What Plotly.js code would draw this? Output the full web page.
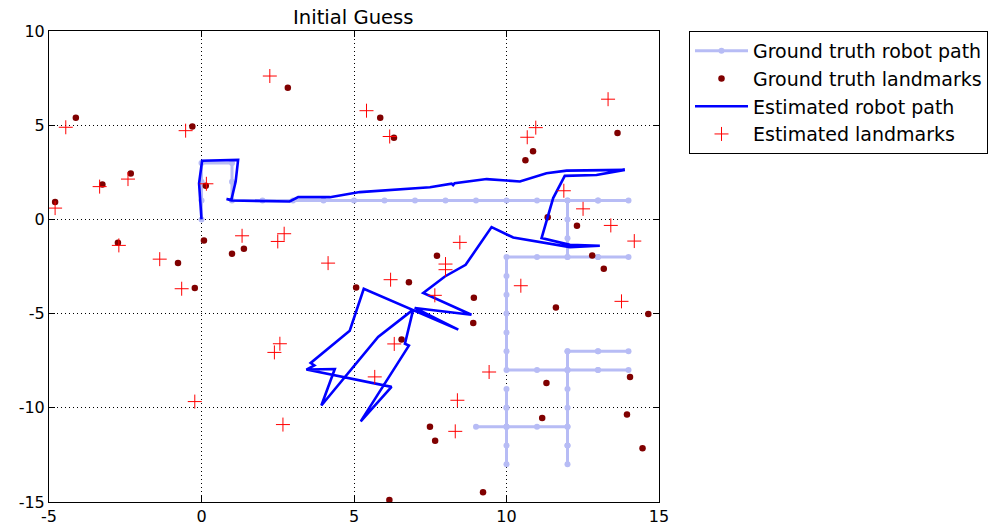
<!DOCTYPE html>
<html>
<head>
<meta charset="utf-8">
<script src="https://cdn.plot.ly/plotly-3.0.1.min.js"></script>
<style>html,body{margin:0;padding:0;background:#fff;}#chart{width:991px;height:525px;}</style>
</head>
<body>
<div id="chart"></div>
<script>
// Ground truth robot path (grid moves, retracing where the robot doubles back)
const gtPathX = [0,0,0,0,1,1,1,2,3,4,5,6,7,8,9,10,11,12,13,14,13,12,12,12,12,13,14,13,12,11,10,10,10,10,10,10,10,11,12,13,14,13,12,12,13,14,13,12,12,12,12,12,12,12,12,12,11,10,9,10,10,10,10,10,10,10];
const gtPathY = [0,1,2,3,3,2,1,1,1,1,1,1,1,1,1,1,1,1,1,1,1,1,0,-1,-2,-2,-2,-2,-2,-2,-2,-3,-4,-5,-6,-7,-8,-8,-8,-8,-8,-8,-8,-7,-7,-7,-7,-7,-8,-9,-10,-11,-12,-13,-12,-11,-11,-11,-11,-11,-10,-9,-10,-11,-12,-13];

// Ground truth landmarks
const gtLmX = [-4.12,-0.30,-3.25,-2.32,0.14,2.83,5.86,6.31,13.64,10.87,10.62,-4.80,-2.74,0.08,-0.77,-0.22,1.00,1.39,7.72,6.80,5.07,6.56,11.35,12.31,12.81,13.19,8.93,11.62,14.65,8.91,7.49,7.66,6.16,11.31,14.05,11.17,13.95,14.46,9.23];
const gtLmY = [5.40,4.93,1.85,2.43,1.78,6.99,5.40,4.33,4.58,3.62,3.14,0.92,-1.24,-1.12,-2.32,-3.64,-1.82,-1.56,-1.93,-3.34,-3.61,-6.37,0.12,-0.34,-1.91,-2.62,-4.16,-4.67,-5.02,-5.50,-11.01,-11.75,-14.90,-8.68,-8.36,-10.54,-10.36,-12.15,-14.48];

// Estimated robot path
const estPathX = [0,-0.05,-0.08,0.02,1.20,1.12,0.98,0.82,0.98,2.89,3.17,4.21,5.19,7.49,8.20,8.25,8.30,9.35,10.44,11.31,11.97,13.88,12.95,11.91,11.53,11.15,12.08,13.06,12.08,10.22,9.51,8.66,7.98,7.27,8.85,6.99,8.42,5.32,4.86,3.58,3.70,3.44,6.23,5.22,6.80,6.67,6.94,5.79,3.93,4.37,3.44];
const estPathY = [0,1.00,1.92,3.11,3.16,2.01,1.04,1.08,1.00,0.95,1.18,1.18,1.45,1.71,1.90,1.82,1.92,2.14,2.01,2.45,2.59,2.63,2.36,2.31,1.13,-0.99,-1.35,-1.40,-1.47,-0.96,-0.41,-2.41,-3.03,-3.91,-5.06,-4.70,-5.85,-3.68,-5.91,-7.62,-7.75,-7.97,-8.89,-10.72,-6.70,-6.60,-4.79,-6.24,-9.88,-7.94,-7.97];

// Estimated landmarks
const estLmX = [-4.45,-0.52,-2.41,-3.34,0.16,2.24,5.41,6.17,13.33,10.96,10.68,11.88,-4.80,-2.71,-1.37,-0.65,1.33,2.71,2.50,4.15,6.20,8.00,8.00,7.65,2.57,6.32,12.51,13.42,14.19,8.47,10.47,13.77,-0.22,2.39,5.68,2.67,9.43,8.39,8.32];
const estLmY = [4.89,4.71,2.14,1.74,1.89,7.61,5.77,4.40,6.38,4.87,4.36,1.52,0.60,-1.38,-2.11,-3.68,-0.87,-0.76,-1.17,-2.32,-3.20,-2.37,-2.67,-4.03,-6.60,-6.61,0.56,-0.32,-1.15,-1.22,-3.52,-4.35,-9.67,-7.06,-8.36,-10.89,-8.10,-9.60,-11.25];

const xTicks = [-5,0,5,10,15];
const yTicks = [-15,-10,-5,0,5,10];

const traces = [
  {x: gtPathX, y: gtPathY, mode: 'lines+markers', name: 'Ground truth robot path',
   line: {color: 'rgb(183,188,245)', width: 3}, marker: {color: 'rgb(183,188,245)', size: 6}},
  {x: gtLmX, y: gtLmY, mode: 'markers', name: 'Ground truth landmarks',
   marker: {color: '#800000', size: 6.5}},
  {x: estPathX, y: estPathY, mode: 'lines', name: 'Estimated robot path',
   line: {color: 'rgb(0,0,255)', width: 2.6}},
  {x: estLmX, y: estLmY, mode: 'markers', name: 'Estimated landmarks',
   marker: {color: 'rgb(255,0,0)', symbol: 'cross-thin', size: 10, line: {color: 'rgb(255,0,0)', width: 1}}}
];

const axisCommon = {
  showline: true, linecolor: 'black', linewidth: 1, mirror: 'ticks',
  ticks: 'inside', ticklen: 6, tickcolor: 'black', tickwidth: 1,
  showgrid: true, gridcolor: 'black', gridwidth: 1, griddash: '1px,3px',
  zeroline: false, tickfont: {family: 'DejaVu Sans', size: 16, color: 'black'}
};

const layout = {
  width: 991, height: 525,
  margin: {l: 49, r: 332, t: 31, b: 23},
  paper_bgcolor: 'white', plot_bgcolor: 'white',
  title: {text: 'Initial Guess', font: {family: 'DejaVu Sans', size: 19.6, color: 'black'}, x: 0.3565, xanchor: 'center', y: 0.967, yanchor: 'middle'},
  xaxis: Object.assign({}, axisCommon, {range: [-5, 15], tickvals: xTicks, ticktext: xTicks.map(String)}),
  yaxis: Object.assign({}, axisCommon, {range: [-15, 10], tickvals: yTicks, ticktext: yTicks.map(String)}),
  showlegend: true,
  legend: {xref: 'container', yref: 'container', x: 689/991, xanchor: 'left', y: 1 - 31/525, yanchor: 'top',
    bordercolor: 'black', borderwidth: 1, bgcolor: 'white',
    font: {family: 'DejaVu Sans', size: 19, color: 'black'}, tracegroupgap: 0, itemwidth: 53}
};

Plotly.newPlot('chart', traces, layout, {displayModeBar: false, staticPlot: true});
</script>
</body>
</html>
